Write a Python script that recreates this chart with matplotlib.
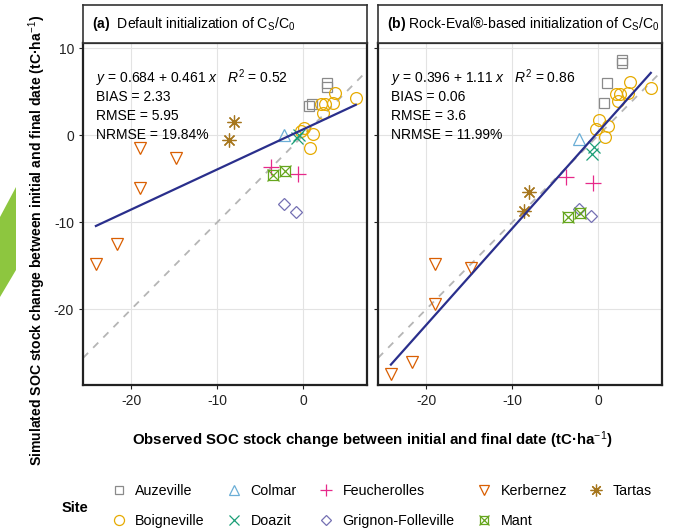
import numpy as np
import matplotlib
matplotlib.use("Agg")
import matplotlib.pyplot as plt
from matplotlib.lines import Line2D
from matplotlib.patches import Polygon

plt.rcParams['font.family'] = ['Liberation Sans', 'DejaVu Sans']
plt.rcParams['mathtext.fontset'] = 'custom'
plt.rcParams['mathtext.rm'] = 'Liberation Sans'
plt.rcParams['mathtext.it'] = 'Liberation Sans:italic'
plt.rcParams['mathtext.bf'] = 'Liberation Sans:bold'
plt.rcParams['axes.unicode_minus'] = False

# data: observed change, simulated (a) default, (b) Rock-Eval
sites = ["Auzeville", "Boigneville", "Colmar", "Doazit", "Feucherolles",
         "Grignon-Folleville", "Kerbernez", "Mant", "Tartas"]

obs = {
    "Auzeville": [2.7, 2.7, 1.0, 0.7],
    "Boigneville": [3.7, 6.1, 2.0, 2.5, 3.5, 2.3, 0.1, 1.1, -0.3, 0.8],
    "Colmar": [-2.2],
    "Doazit": [-0.7, -0.5],
    "Feucherolles": [-3.7, -0.6],
    "Grignon-Folleville": [-2.3, -0.8],
    "Kerbernez": [-24.1, -21.6, -19.0, -19.0, -14.8],
    "Mant": [-3.5, -2.1],
    "Tartas": [-8.0, -8.6],
}
sim_a = {
    "Auzeville": [6.0, 5.5, 3.6, 3.4],
    "Boigneville": [4.9, 4.3, 3.6, 3.6, 3.7, 2.6, 0.8, 0.1, 0.5, -1.5],
    "Colmar": [0.0],
    "Doazit": [-0.3, 0.0],
    "Feucherolles": [-3.7, -4.4],
    "Grignon-Folleville": [-7.9, -8.8],
    "Kerbernez": [-14.8, -12.5, -1.5, -6.1, -2.6],
    "Mant": [-4.6, -4.1],
    "Tartas": [1.5, -0.6],
}
sim_b = {
    "Auzeville": [8.7, 8.3, 6.0, 3.7],
    "Boigneville": [6.1, 5.4, 4.7, 4.7, 4.9, 3.9, 1.8, 1.1, 0.7, -0.2],
    "Colmar": [-0.4],
    "Doazit": [-2.1, -1.4],
    "Feucherolles": [-4.8, -5.5],
    "Grignon-Folleville": [-8.5, -9.3],
    "Kerbernez": [-27.4, -26.1, -14.8, -19.4, -15.2],
    "Mant": [-9.4, -8.9],
    "Tartas": [-6.5, -8.7],
}

fit_a = (0.684, 0.461)
fit_b = (0.396, 1.11)
stats_a = ["$y$ = 0.684 + 0.461 $x$   $R^2$ = 0.52", "BIAS = 2.33", "RMSE = 5.95", "NRMSE = 19.84%"]
stats_b = ["$y$ = 0.396 + 1.11 $x$   $R^2$ = 0.86", "BIAS = 0.06", "RMSE = 3.6", "NRMSE = 11.99%"]
titles = [r"$\mathbf{(a)}$  Default initialization of C$_\mathrm{S}$/C$_0$",
          r"$\mathbf{(b)}$ Rock-Eval®-based initialization of C$_\mathrm{S}$/C$_0$"]

colors = {
    "Auzeville": "#8a8a8a", "Boigneville": "#E6AB02", "Colmar": "#6BAED6",
    "Doazit": "#1B9E77", "Feucherolles": "#E7298A", "Grignon-Folleville": "#7570B3",
    "Kerbernez": "#D95F02", "Mant": "#66A61E", "Tartas": "#A6761D",
}
markers = {
    "Auzeville": ["s"], "Boigneville": ["o"], "Colmar": ["^"], "Doazit": ["x"],
    "Feucherolles": ["+"], "Grignon-Folleville": ["D"], "Kerbernez": ["v"],
    "Mant": ["s", "x"], "Tartas": [(8, 2, 0)],
}
msize = {"s": 7, "o": 8.5, "^": 8, "x": 8, "+": 11, "D": 6.5, "v": 8.5}


def ms_of(m):
    return 10 if isinstance(m, tuple) else msize[m]


W, H = 675, 531
fig = plt.figure(figsize=(W / 100, H / 100), dpi=100)

# green slide fragment on the left edge
fig.patches.append(Polygon([[0, 1 - 217 / H], [16 / W, 1 - 187 / H], [16 / W, 1 - 270 / H], [0, 1 - 297 / H]],
                           closed=True, transform=fig.transFigure, facecolor="#8DC63F", edgecolor="none"))

lefts = [83, 378]
for k, (sim, fit, stats, title) in enumerate(zip([sim_a, sim_b], [fit_a, fit_b], [stats_a, stats_b], titles)):
    ax = fig.add_axes([lefts[k] / W, (H - 385) / H, 284 / W, 342 / H])
    ax.set_xlim(-25.6, 7.4)
    ax.set_ylim(-28.7, 10.6)
    ax.set_xticks([-20, -10, 0])
    ax.set_yticks([-20, -10, 0, 10])
    ax.grid(color="#e3e3e3", lw=0.8)
    ax.set_axisbelow(True)
    for s in ax.spines.values():
        s.set_linewidth(1.6)
        s.set_color("#222222")
    ax.tick_params(length=3, width=0.8, labelsize=10, colors="#222222")
    if k == 1:
        ax.tick_params(labelleft=False)

    ax.axline((0, 0), slope=1, color="#b5b5b5", lw=1.3, ls=(0, (4, 4)), zorder=1)

    allx = np.concatenate([obs[s] for s in sites])
    xx = np.array([allx.min(), allx.max()])
    ax.plot(xx, fit[0] + fit[1] * xx, color="#2A2F8C", lw=1.6, zorder=4)

    for s in sites:
        for m in markers[s]:
            ax.plot(obs[s], sim[s], ls="none", marker=m, ms=ms_of(m),
                    mfc="none", mec=colors[s], mew=0.9, zorder=3)

    for i, line in enumerate(stats):
        ax.text(0.047, 0.897 - i * 0.055, line, transform=ax.transAxes, fontsize=10, va="center", ha="left")

    sax = fig.add_axes([lefts[k] / W, (H - 43) / H, 284 / W, 38 / H])
    sax.set_xticks([])
    sax.set_yticks([])
    for s in sax.spines.values():
        s.set_linewidth(1.2)
        s.set_color("#333333")
    sax.text(0.03, 0.5, title, transform=sax.transAxes, fontsize=10.1, va="center", ha="left")

fig.text(372 / W, 1 - 440 / H, "Observed SOC stock change between initial and final date (tC·ha$^{-1}$)",
         ha="center", va="center", fontsize=10.8, weight="bold")
fig.text(37 / W, 1 - 240 / H, "Simulated SOC stock change between initial and final date (tC·ha$^{-1}$)",
         ha="center", va="center", fontsize=10.1, weight="bold", rotation=90)

handles = []
for s in sites:
    parts = tuple(Line2D([], [], ls="none", marker=m, ms=ms_of(m) * 0.85,
                         mfc="none", mec=colors[s], mew=0.9) for m in markers[s])
    handles.append(parts if len(parts) > 1 else parts[0])
fig.legend(handles, sites, ncol=5, loc="center left", bbox_to_anchor=(98 / W, 1 - 506 / H),
           frameon=False, fontsize=10.3, handlelength=1.1, handletextpad=0.6, columnspacing=1.5,
           labelspacing=1.15)
fig.text(62 / W, 1 - 508 / H, "Site", fontsize=10.5, weight="bold", va="center")

fig.savefig("out.png", dpi=100)
